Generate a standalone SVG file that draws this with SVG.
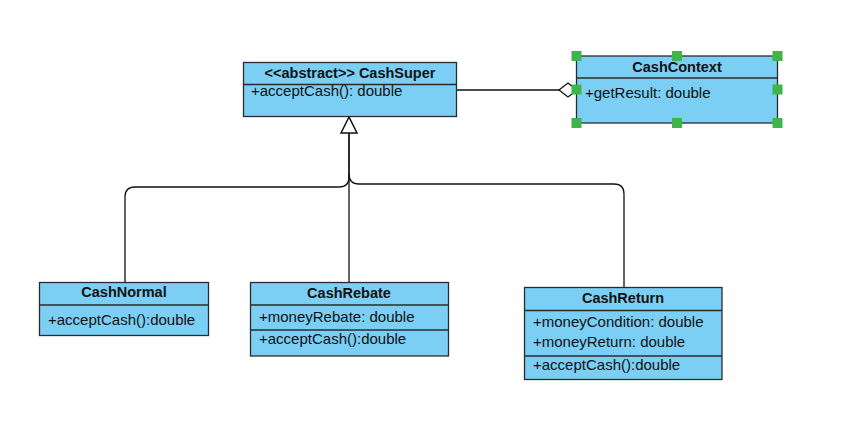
<svg xmlns="http://www.w3.org/2000/svg" width="842" height="422" viewBox="0 0 842 422">
<style>
.box{fill:#7BCFF4;stroke:#2b2b2b;stroke-width:1.3}
.div{stroke:#2b2b2b;stroke-width:1.3}
.t{font-family:"Liberation Sans",Arial,sans-serif;font-size:14.5px;font-weight:bold;fill:#111;text-anchor:middle}
.a{font-family:"Liberation Sans",Arial,sans-serif;font-size:15px;fill:#111}
.c{fill:none;stroke:#111;stroke-width:1.3}
.h{fill:#3CB54A}
</style>
<rect width="842" height="422" fill="#fff"/>
<g id="connectors">
<path class="c" d="M457,90 H559"/>
<path d="M559,90 L568,83 L577,90 L568,97 Z" fill="#fff" stroke="#111" stroke-width="1.3"/>
<path class="c" d="M349,133 V177 Q349,187 339,187 H135 Q125,187 125,197 V283"/>
<path class="c" d="M349,133 V283"/>
<path class="c" d="M349,174 Q349,184 359,184 H614 Q624,184 624,194 V288"/>
<path d="M349,117 L341,133 L357,133 Z" fill="#fff" stroke="#111" stroke-width="1.5"/>
</g>
<g id="CashSuper">
<rect class="box" x="243.5" y="62.5" width="213" height="54"/>
<line class="div" x1="243.5" y1="84.5" x2="456.5" y2="84.5"/>
<text class="t" x="350" y="78">&lt;&lt;abstract&gt;&gt; CashSuper</text>
<text class="a" x="251" y="96">+acceptCash(): double</text>
</g>
<g id="CashContext">
<rect class="box" x="576.5" y="56" width="201" height="67"/>
<line class="div" x1="576.5" y1="78" x2="777.5" y2="78"/>
<text class="t" x="677" y="72">CashContext</text>
<text class="a" x="585" y="98">+getResult: double</text>
<rect class="h" x="571.5" y="51" width="10" height="10"/>
<rect class="h" x="672" y="51" width="10" height="10"/>
<rect class="h" x="772.5" y="51" width="10" height="10"/>
<rect class="h" x="571.5" y="84.5" width="10" height="10"/>
<rect class="h" x="772.5" y="84.5" width="10" height="10"/>
<rect class="h" x="571.5" y="118" width="10" height="10"/>
<rect class="h" x="672" y="118" width="10" height="10"/>
<rect class="h" x="772.5" y="118" width="10" height="10"/>
</g>
<g id="CashNormal">
<rect class="box" x="39.5" y="282.5" width="169" height="53"/>
<line class="div" x1="39.5" y1="305" x2="208.5" y2="305"/>
<text class="t" x="124" y="297">CashNormal</text>
<text class="a" x="48" y="325">+acceptCash():double</text>
</g>
<g id="CashRebate">
<rect class="box" x="250.5" y="282.5" width="198" height="73.5"/>
<line class="div" x1="250.5" y1="305" x2="448.5" y2="305"/>
<line class="div" x1="250.5" y1="330" x2="448.5" y2="330"/>
<text class="t" x="349" y="298">CashRebate</text>
<text class="a" x="259" y="322">+moneyRebate: double</text>
<text class="a" x="259" y="344">+acceptCash():double</text>
</g>
<g id="CashReturn">
<rect class="box" x="524.5" y="287.5" width="197.5" height="92"/>
<line class="div" x1="524.5" y1="310.5" x2="722" y2="310.5"/>
<line class="div" x1="524.5" y1="356" x2="722" y2="356"/>
<text class="t" x="623" y="303">CashReturn</text>
<text class="a" x="533" y="327">+moneyCondition: double</text>
<text class="a" x="533" y="347">+moneyReturn: double</text>
<text class="a" x="533" y="370">+acceptCash():double</text>
</g>
</svg>
